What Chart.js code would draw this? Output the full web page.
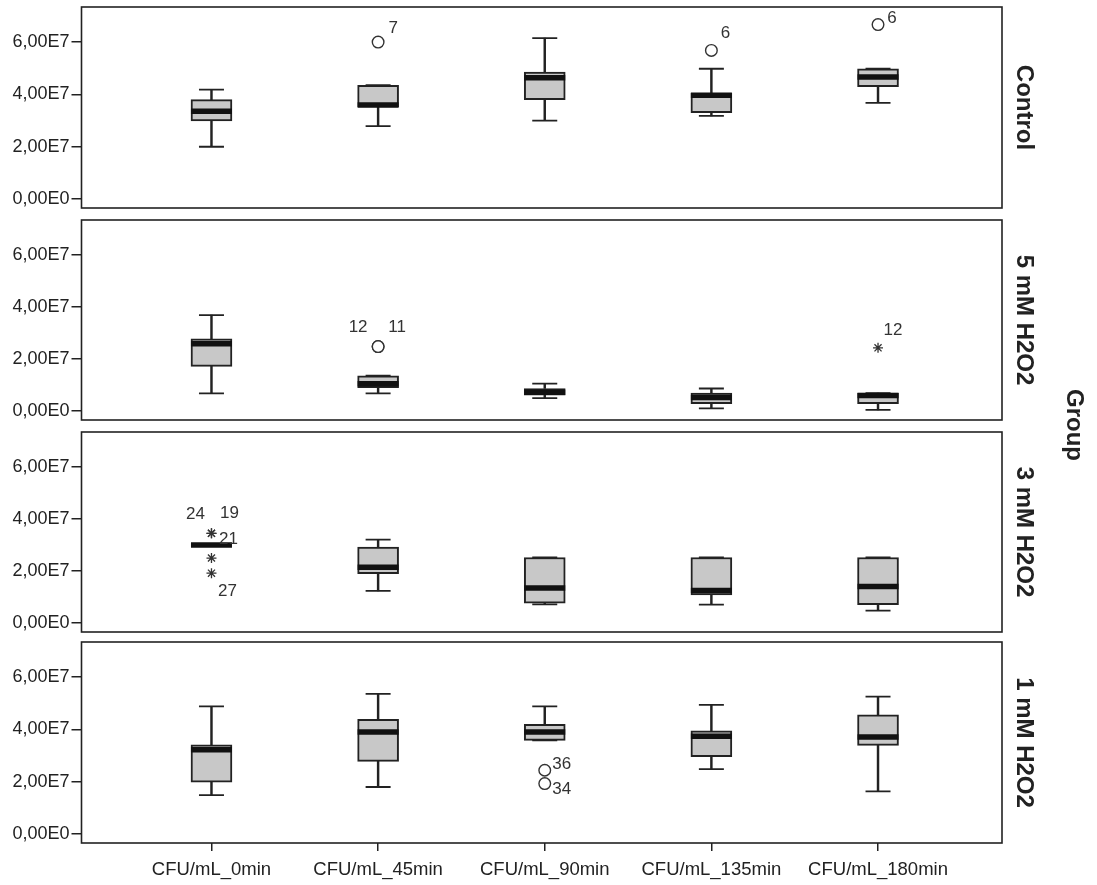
<!DOCTYPE html>
<html>
<head>
<meta charset="utf-8">
<title>CFU/mL by group</title>
<script src="https://cdn.jsdelivr.net/npm/chart.js@4.4.1/dist/chart.umd.min.js"></script>
<style>
  html, body { margin: 0; padding: 0; background: #fff; }
  #page { position: relative; width: 1097px; height: 885px; overflow: hidden; background: #fff; }
  .panel { position: absolute; left: 0; width: 1097px; }
  #groupTitle {
    position: absolute; left: 1075px; top: 425px;
    transform: translate(-50%, -50%) rotate(90deg);
    font: bold 24px "Liberation Sans", Arial, sans-serif; color: #222;
    white-space: nowrap; line-height: 1;
  }
</style>
</head>
<body>
<div id="page">
  <div class="panel" style="top:0px;height:215px"><canvas id="panel0"></canvas></div>
  <div class="panel" style="top:213px;height:214px"><canvas id="panel1"></canvas></div>
  <div class="panel" style="top:425px;height:214px"><canvas id="panel2"></canvas></div>
  <div class="panel" style="top:635px;height:250px"><canvas id="panel3"></canvas></div>
  <div id="groupTitle">Group</div>
</div>
<script>
// Time points on the x axis
const categories = ['CFU/mL_0min', 'CFU/mL_45min', 'CFU/mL_90min', 'CFU/mL_135min', 'CFU/mL_180min'];
// Treatment groups, one panel each
const groups = ['Control', '5 mM H2O2', '3 mM H2O2', '1 mM H2O2'];
// Y axis ticks
const yTickValues = [0, 2e7, 4e7, 6e7];
const yTickLabels = ['0,00E0', '2,00E7', '4,00E7', '6,00E7'];

// Five-number summaries per time point: [min, Q1, median, Q3, max]
const controlStats = [
  [2.00e7, 2.99e7, 3.36e7, 3.80e7, 4.18e7],
  [2.79e7, 3.52e7, 3.60e7, 4.35e7, 4.35e7],
  [3.00e7, 3.80e7, 4.64e7, 4.85e7, 6.15e7],
  [3.18e7, 3.30e7, 3.97e7, 4.04e7, 4.98e7],
  [3.68e7, 4.30e7, 4.67e7, 4.98e7, 4.98e7]
];
const mM5Stats = [
  [0.68e7, 1.72e7, 2.59e7, 2.78e7, 3.69e7],
  [0.68e7, 0.90e7, 1.05e7, 1.36e7, 1.36e7],
  [0.50e7, 0.61e7, 0.73e7, 0.87e7, 1.06e7],
  [0.11e7, 0.29e7, 0.52e7, 0.69e7, 0.87e7],
  [0.05e7, 0.29e7, 0.60e7, 0.69e7, 0.69e7]
];
const mM3Stats = [
  [3.00e7, 3.00e7, 3.00e7, 3.00e7, 3.00e7],
  [1.24e7, 1.90e7, 2.15e7, 2.92e7, 3.21e7],
  [0.72e7, 0.77e7, 1.35e7, 2.52e7, 2.52e7],
  [0.71e7, 1.08e7, 1.25e7, 2.52e7, 2.52e7],
  [0.48e7, 0.71e7, 1.41e7, 2.52e7, 2.52e7]
];
const mM1Stats = [
  [1.49e7, 1.98e7, 3.22e7, 3.41e7, 4.88e7],
  [1.80e7, 2.78e7, 3.90e7, 4.39e7, 5.36e7],
  [3.58e7, 3.58e7, 3.90e7, 4.19e7, 4.88e7],
  [2.48e7, 2.96e7, 3.74e7, 3.95e7, 4.94e7],
  [1.63e7, 3.39e7, 3.71e7, 4.56e7, 5.25e7]
];

// Outside values (circles) and extreme values (stars): [time index, value, case number]
const controlOutliers = [[1, 6.00e7, '7'], [3, 5.68e7, '6'], [4, 6.67e7, '6']];
const controlExtremes = [];
const mM5Outliers = [[1, 2.48e7, '12'], [1, 2.48e7, '11']];
const mM5Extremes = [[4, 2.43e7, '12']];
const mM3Outliers = [];
const mM3Extremes = [[0, 3.45e7, '24'], [0, 3.45e7, '19'], [0, 2.50e7, '21'], [0, 1.92e7, '27']];
const mM1Outliers = [[2, 2.44e7, '36'], [2, 1.93e7, '34']];
const mM1Extremes = [];

// Where each case number sits relative to its marker, in pixels
const labelOffsets = [
  { outliers: [[15, -14], [14, -17], [14, -6]], extremes: [] },
  { outliers: [[-20, -19], [19, -19]], extremes: [[15, -18]] },
  { outliers: [], extremes: [[-16, -19], [18, -20], [17, -19], [16, 18]] },
  { outliers: [[17, -6], [17, 6]], extremes: [] }
];

const panels = [
  { stats: controlStats, outliers: controlOutliers, extremes: controlExtremes },
  { stats: mM5Stats, outliers: mM5Outliers, extremes: mM5Extremes },
  { stats: mM3Stats, outliers: mM3Outliers, extremes: mM3Extremes },
  { stats: mM1Stats, outliers: mM1Outliers, extremes: mM1Extremes }
];

const ink = '#222';
const boxFill = '#c8c8c8';
const fontFamily = '"Liberation Sans", Arial, sans-serif';
const yMin = -0.34e7, yMax = 7.34e7;
const xMin = -0.78, xMax = 4.744;

// Closed frame around each plot area
const framePlugin = {
  id: 'frame',
  afterDraw(chart) {
    const { ctx, chartArea: a } = chart;
    ctx.save();
    ctx.lineWidth = 1.6;
    ctx.strokeStyle = ink;
    ctx.strokeRect(a.left, a.top, a.right - a.left, a.bottom - a.top);
    ctx.restore();
  }
};

// Group name on the right-hand strip of each panel
const stripLabelPlugin = {
  id: 'stripLabel',
  afterDraw(chart, args, opts) {
    const { ctx, chartArea: a } = chart;
    ctx.save();
    ctx.translate(a.right + opts.gap, (a.top + a.bottom) / 2);
    ctx.rotate(Math.PI / 2);
    ctx.font = 'bold 24px ' + fontFamily;
    ctx.fillStyle = ink;
    ctx.textAlign = 'center';
    ctx.textBaseline = 'middle';
    ctx.fillText(opts.text, 0, 0);
    ctx.restore();
  }
};

// Case numbers next to outside and extreme values
const caseLabelPlugin = {
  id: 'caseLabels',
  afterDatasetsDraw(chart) {
    const ctx = chart.ctx;
    chart.data.datasets.forEach((ds, i) => {
      if (!ds.caseLabels) return;
      const meta = chart.getDatasetMeta(i);
      ctx.save();
      ctx.font = '17px ' + fontFamily;
      ctx.fillStyle = '#333';
      ctx.textAlign = 'center';
      ctx.textBaseline = 'middle';
      meta.data.forEach((pt, j) => {
        const off = ds.labelOffsets[j];
        ctx.fillText(ds.caseLabels[j], pt.x + off[0], pt.y + off[1]);
      });
      ctx.restore();
    });
  }
};

function buildPanel(index) {
  const panel = panels[index];
  const stats = panel.stats;
  const isBottom = index === panels.length - 1;

  const lowerWhiskers = stats.map((s, i) => ({ x: i, y: [s[0], s[1]] }));
  const upperWhiskers = stats.map((s, i) => ({ x: i, y: [s[3], s[4]] }));
  const boxes = stats.map((s, i) => ({ x: i, y: [s[1], s[3]] }));
  const medians = stats.map((s, i) => ({ x: i, y: s[2] }));
  const caps = stats.flatMap((s, i) => [{ x: i, y: s[0] }, { x: i, y: s[4] }]);
  const outsidePts = panel.outliers.map(o => ({ x: o[0], y: o[1] }));
  const extremePts = panel.extremes.map(o => ({ x: o[0], y: o[1] }));

  const pointSet = (data, extra) => Object.assign({
    type: 'line', data, showLine: false, borderColor: ink, pointHoverRadius: 0
  }, extra);

  const datasets = [
    { type: 'bar', data: lowerWhiskers, backgroundColor: ink, barThickness: 1.8, grouped: false, order: 7 },
    { type: 'bar', data: upperWhiskers, backgroundColor: ink, barThickness: 1.8, grouped: false, order: 7 },
    { type: 'bar', data: boxes, backgroundColor: boxFill, borderColor: ink, borderWidth: 2,
      borderSkipped: false, barThickness: 41, grouped: false, order: 6 },
    pointSet(caps, { pointStyle: 'line', pointRadius: 12.5, pointBorderWidth: 1.8, pointBorderColor: ink, order: 5 }),
    pointSet(medians, { pointStyle: 'line', pointRadius: 20.5, pointBorderWidth: 5.5, pointBorderColor: '#111', order: 4 }),
    pointSet(outsidePts, { pointStyle: 'circle', pointRadius: 5.8, pointBorderWidth: 1.4, pointBorderColor: '#333',
      pointBackgroundColor: '#fff', order: 3,
      caseLabels: panel.outliers.map(o => o[2]), labelOffsets: labelOffsets[index].outliers }),
    pointSet(extremePts, { pointStyle: 'star', pointRadius: 5, pointBorderWidth: 1.3, pointBorderColor: '#333',
      order: 2, caseLabels: panel.extremes.map(o => o[2]), labelOffsets: labelOffsets[index].extremes })
  ];

  return new Chart(document.getElementById('panel' + index), {
    type: 'bar',
    data: { datasets },
    plugins: [framePlugin, stripLabelPlugin, caseLabelPlugin],
    options: {
      responsive: true,
      maintainAspectRatio: false,
      devicePixelRatio: 1,
      animation: false,
      events: [],
      layout: { autoPadding: false, padding: { top: 7, bottom: isBottom ? 0 : 7, left: 0, right: 95 } },
      plugins: {
        legend: { display: false },
        tooltip: { enabled: false },
        stripLabel: { text: groups[index], gap: 22 }
      },
      scales: {
        x: {
          type: 'linear', min: xMin, max: xMax, offset: false, display: isBottom,
          afterBuildTicks: s => { s.ticks = categories.map((c, i) => ({ value: i })); },
          afterFit: s => {
            s.height = isBottom ? 42 : 0;
            s.paddingLeft = 0; s.paddingRight = 0;
          },
          ticks: {
            callback: (v, i) => categories[i],
            font: { family: fontFamily, size: 18.5 }, color: ink,
            padding: 8, maxRotation: 0, minRotation: 0, autoSkip: false
          },
          grid: { offset: false, drawOnChartArea: false, drawTicks: true, tickLength: 8, color: ink, lineWidth: 1.5 },
          border: { display: false }
        },
        y: {
          type: 'linear', min: yMin, max: yMax,
          afterBuildTicks: s => { s.ticks = yTickValues.map(v => ({ value: v })); },
          afterFit: s => {
            s.width = 81.5;
            s.paddingTop = 0; s.paddingBottom = 0;
          },
          ticks: {
            callback: (v, i) => yTickLabels[i],
            font: { family: fontFamily, size: 18 }, color: ink, padding: 2
          },
          grid: { drawOnChartArea: false, drawTicks: true, tickLength: 10, color: ink, lineWidth: 1.5 },
          border: { display: false }
        }
      }
    }
  });
}

panels.forEach((p, i) => buildPanel(i));
</script>
</body>
</html>
